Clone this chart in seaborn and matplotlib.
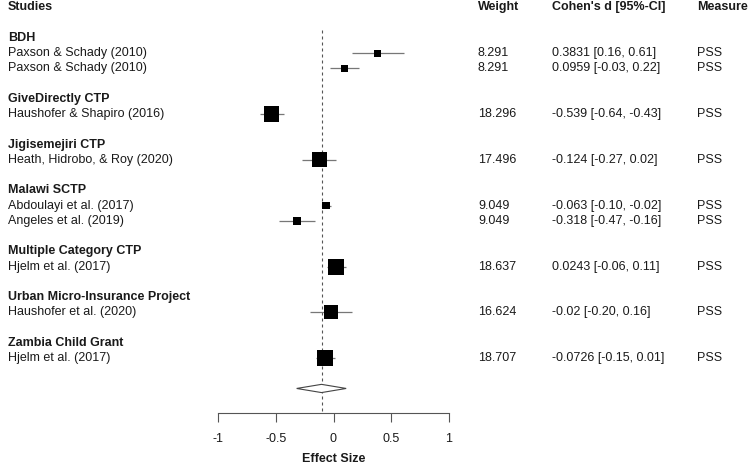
import numpy as np
import pandas as pd
import seaborn as sns
import matplotlib.pyplot as plt
from matplotlib.transforms import blended_transform_factory

# data
groups = ["BDH", "GiveDirectly CTP", "Jigisemejiri CTP", "Malawi SCTP",
          "Multiple Category CTP", "Urban Micro-Insurance Project", "Zambia Child Grant"]
study_group = [0, 0, 1, 2, 3, 3, 4, 5, 6]
studies = ["Paxson & Schady (2010)", "Paxson & Schady (2010)", "Haushofer & Shapiro (2016)",
           "Heath, Hidrobo, & Roy (2020)", "Abdoulayi et al. (2017)", "Angeles et al. (2019)",
           "Hjelm et al. (2017)", "Haushofer et al. (2020)", "Hjelm et al. (2017)"]
weights = [8.291, 8.291, 18.296, 17.496, 9.049, 9.049, 18.637, 16.624, 18.707]
effects = [0.3831, 0.0959, -0.539, -0.124, -0.063, -0.318, 0.0243, -0.02, -0.0726]
ci_low = [0.16, -0.03, -0.64, -0.27, -0.10, -0.47, -0.06, -0.20, -0.15]
ci_high = [0.61, 0.22, -0.43, 0.02, -0.02, -0.16, 0.11, 0.16, 0.01]
effect_labels = ["0.3831 [0.16, 0.61]", "0.0959 [-0.03, 0.22]", "-0.539 [-0.64, -0.43]",
                 "-0.124 [-0.27, 0.02]", "-0.063 [-0.10, -0.02]", "-0.318 [-0.47, -0.16]",
                 "0.0243 [-0.06, 0.11]", "-0.02 [-0.20, 0.16]", "-0.0726 [-0.15, 0.01]"]
measures = ["PSS"] * 9
pooled_effect = -0.104
pooled_low = -0.32
pooled_high = 0.11
x_ticks = [-1, -0.5, 0, 0.5, 1]
x_tick_labels = ["-1", "-0.5", "0", "0.5", "1"]

# work out row numbers: header, blank, then group title + studies + blank
group_rows = []
study_rows = []
row = 2
for g in range(len(groups)):
    group_rows.append(row)
    row += 1
    for i, sg in enumerate(study_group):
        if sg == g:
            study_rows.append(row)
            row += 1
    row += 1
pooled_row = row

df = pd.DataFrame({'study': studies, 'row': study_rows, 'weight': weights,
                   'effect': effects, 'low': ci_low, 'high': ci_high})
df['s'] = (0.86 * df['weight'] * 0.72) ** 2

sns.set_theme(style='white')
plt.rcParams['font.family'] = ['Liberation Sans', 'DejaVu Sans']
plt.rcParams['font.size'] = 9

W, H = 750, 467
fig = plt.figure(figsize=(7.5, 4.67), dpi=100)
ax = fig.add_axes([218.3 / W, (H - 413) / H, 230.4 / W, 413 / H])
ax.set_xlim(-1, 1)
ax.set_ylim(26.61, -0.49)
ax.patch.set_alpha(0)

# reference line at pooled estimate
ax.vlines(pooled_effect, 1.5, 26.61, color='#555555', lw=0.8,
          linestyle=(0, (2.7, 2.7)), zorder=1)

# confidence intervals
ax.hlines(df['row'], df['low'], df['high'], color='#777777', lw=0.9, zorder=2)

sns.scatterplot(data=df, x='effect', y='row', marker='s', s=df['s'].values,
                color='black', edgecolor='black', linewidth=0, legend=False,
                ax=ax, zorder=3)

# pooled diamond
ax.fill([pooled_low, pooled_effect, pooled_high, pooled_effect],
        [pooled_row, pooled_row - 0.27, pooled_row, pooled_row + 0.27],
        facecolor='white', edgecolor='#444444', lw=0.8, zorder=4)

for side in ['top', 'right', 'left']:
    ax.spines[side].set_visible(False)
ax.spines['bottom'].set_color('#555555')
ax.spines['bottom'].set_linewidth(0.8)
ax.set_yticks([])
ax.set_xticks(x_ticks)
ax.set_xticklabels(x_tick_labels)
ax.tick_params(axis='x', bottom=True, length=6.5, width=0.8, color='#555555',
               labelcolor='#1a1a1a', labelsize=9, pad=8)
ax.set_xlabel('Effect Size', fontweight='bold', fontsize=9, color='#1a1a1a', labelpad=6)
ax.set_ylabel('')

# text columns
tr = blended_transform_factory(fig.transFigure, ax.transData)
txt = dict(transform=tr, va='center', ha='left', fontsize=9, color='#1a1a1a')
col_x = [8 / W, 478 / W, 552 / W, 697 / W]
for x, h in zip(col_x, ["Studies", "Weight", "Cohen's d [95%-CI]", "Measure"]):
    ax.text(x, 0, h, fontweight='bold', **txt)
for g, r in zip(groups, group_rows):
    ax.text(col_x[0], r, g, fontweight='bold', **txt)
for s, r, w, e, m in zip(studies, study_rows, weights, effect_labels, measures):
    ax.text(col_x[0], r, s, **txt)
    ax.text(col_x[1], r, f"{w:.3f}", **txt)
    ax.text(col_x[2], r, e, **txt)
    ax.text(col_x[3], r, m, **txt)

plt.savefig('out.png', dpi=100)
plt.close()
